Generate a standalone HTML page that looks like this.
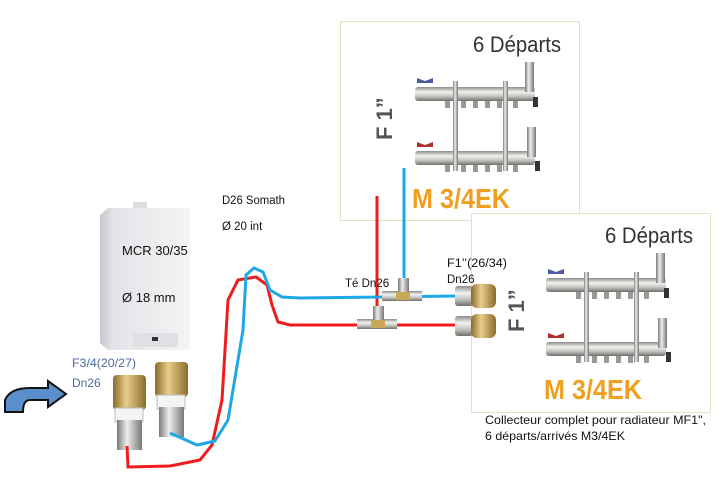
<!DOCTYPE html>
<html><head><meta charset="utf-8"><style>
html,body{margin:0;padding:0;background:#fff;width:726px;height:495px;overflow:hidden}
svg{display:block}
text{font-family:"Liberation Sans",sans-serif}
</style></head><body>
<svg width="726" height="495" viewBox="0 0 726 495" xmlns="http://www.w3.org/2000/svg">
<defs>
<linearGradient id="met" x1="0" y1="0" x2="0" y2="1"><stop offset="0" stop-color="#8a8a88"/><stop offset=".35" stop-color="#f2f2f0"/><stop offset=".7" stop-color="#bdbdb8"/><stop offset="1" stop-color="#6e6e6a"/></linearGradient>
<linearGradient id="metv" x1="0" y1="0" x2="1" y2="0"><stop offset="0" stop-color="#7a7a78"/><stop offset=".4" stop-color="#eeeeec"/><stop offset="1" stop-color="#777"/></linearGradient>
<linearGradient id="brass" x1="0" y1="0" x2="1" y2="0"><stop offset="0" stop-color="#8a6a2a"/><stop offset=".4" stop-color="#e8cf8a"/><stop offset="1" stop-color="#8c6b2b"/></linearGradient>
<linearGradient id="boil" x1="0" y1="0" x2="1" y2="0"><stop offset="0" stop-color="#c8c8cc"/><stop offset=".15" stop-color="#e4e4e8"/><stop offset="1" stop-color="#f4f4f6"/></linearGradient>
<g id="man">
  <rect x="0" y="0" width="120" height="14" rx="3" fill="url(#met)"/>
  <rect x="0" y="64" width="120" height="14" rx="3" fill="url(#met)"/>
  <rect x="38" y="-6" width="5" height="90" fill="url(#metv)"/>
  <rect x="88" y="-6" width="5" height="90" fill="url(#metv)"/>
  <g fill="#999"><rect x="30" y="14" width="5" height="7"/><rect x="46" y="14" width="5" height="7"/><rect x="58" y="14" width="5" height="7"/><rect x="70" y="14" width="5" height="7"/><rect x="82" y="14" width="5" height="7"/><rect x="98" y="14" width="5" height="7"/>
  <rect x="30" y="78" width="5" height="7"/><rect x="46" y="78" width="5" height="7"/><rect x="58" y="78" width="5" height="7"/><rect x="70" y="78" width="5" height="7"/><rect x="82" y="78" width="5" height="7"/><rect x="98" y="78" width="5" height="7"/></g>
  <rect x="110" y="-25" width="9" height="30" fill="url(#metv)"/>
  <rect x="112" y="40" width="9" height="30" fill="url(#metv)"/>
  <rect x="118" y="10" width="5" height="10" fill="#333"/>
  <rect x="120" y="74" width="5" height="10" fill="#333"/>
  <path d="M2 -9 l8 3 l8 -3 v5 h-16z" fill="#4a5aa8"/>
  <path d="M2 55 l8 3 l8 -3 v5 h-16z" fill="#b03030"/>
</g>
</defs>

<rect x="340.5" y="21.5" width="239" height="199" fill="#fff" stroke="#d6e6c4"/>
<text x="473" y="52" font-size="22" fill="#333" textLength="88" lengthAdjust="spacingAndGlyphs">6 Départs</text>
<text transform="translate(392,140) rotate(-90)" font-size="22" font-weight="bold" fill="#555">F 1”</text>
<use href="#man" x="415" y="87"/>
<text x="412" y="208" font-size="28" font-weight="bold" fill="#f0a020" textLength="98" lengthAdjust="spacingAndGlyphs">M 3/4EK</text>

<rect x="471.5" y="213.5" width="239" height="199" fill="#fff" stroke="#d6e6c4"/>
<text x="605" y="243" font-size="22" fill="#333" textLength="88" lengthAdjust="spacingAndGlyphs">6 Départs</text>
<text transform="translate(524,332) rotate(-90)" font-size="22" font-weight="bold" fill="#555">F 1”</text>
<use href="#man" x="546" y="278"/>
<text x="544" y="399" font-size="28" font-weight="bold" fill="#f0a020" textLength="98" lengthAdjust="spacingAndGlyphs">M 3/4EK</text>

<rect x="133" y="202" width="14" height="10" fill="#ddd"/>
<path d="M100 215 L108 208 L190 208 L190 350 L108 350 L100 343Z" fill="url(#boil)"/>
<rect x="133" y="333" width="45" height="14" rx="2" fill="#e0e0e4"/>
<rect x="152" y="337" width="6" height="4" fill="#333"/>
<text x="122" y="255" font-size="13" fill="#111">MCR 30/35</text>
<text x="122" y="302" font-size="13" fill="#111">Ø 18 mm</text>

<rect x="113" y="375" width="33" height="35" rx="4" fill="url(#brass)"/>
<rect x="115" y="408" width="28" height="14" fill="#f4f4f4" stroke="#bbb"/>
<rect x="117" y="420" width="25" height="30" fill="url(#metv)"/>
<rect x="155" y="362" width="33" height="35" rx="4" fill="url(#brass)"/>
<rect x="157" y="395" width="28" height="14" fill="#f4f4f4" stroke="#bbb"/>
<rect x="159" y="407" width="25" height="30" fill="url(#metv)"/>

<path d="M5 412 L5 400 Q10 388 30 388 L48 388 L48 381 L66 394 L48 407 L48 400 L30 400 Q23 400 23 412Z" fill="#5b8fcb" stroke="#111" stroke-width="2"/>

<text x="72" y="367" font-size="12" fill="#4a6a9a" textLength="64" lengthAdjust="spacingAndGlyphs">F3/4(20/27)</text>
<text x="72" y="387" font-size="12" fill="#4a6a9a">Dn26</text>

<path d="M127 446 L128 467 L170 466 L200 460 L212 445 L222 400 L228 300 L238 280 L256 277 L267 285 L272 305 L278 322 L290 325 L372 325 L460 325" fill="none" stroke="#ee1c1c" stroke-width="3"/>
<path d="M377 325 L377 196" fill="none" stroke="#ee1c1c" stroke-width="3"/>
<path d="M170 433 L197 445 L215 441 L228 420 L243 330 L246 275 L254 268 L263 272 L270 290 L282 297 L300 298 L455 296" fill="none" stroke="#1fa8e6" stroke-width="3"/>
<path d="M404 296 L404 168" fill="none" stroke="#1fa8e6" stroke-width="3"/>

<rect x="382" y="291" width="40" height="10" fill="url(#met)"/><rect x="398" y="278" width="11" height="16" fill="url(#metv)"/><rect x="396" y="292" width="14" height="8" fill="#c9a85a"/>
<rect x="357" y="319" width="40" height="10" fill="url(#met)"/><rect x="373" y="306" width="11" height="16" fill="url(#metv)"/><rect x="371" y="320" width="14" height="8" fill="#c9a85a"/>

<rect x="455" y="286" width="18" height="20" rx="3" fill="url(#met)"/><rect x="471" y="284" width="25" height="24" rx="6" fill="url(#brass)"/>
<rect x="455" y="316" width="18" height="20" rx="3" fill="url(#met)"/><rect x="471" y="314" width="25" height="24" rx="6" fill="url(#brass)"/>

<text x="222" y="204" font-size="11.5" fill="#111" textLength="63" lengthAdjust="spacingAndGlyphs">D26 Somath</text>
<text x="222" y="230" font-size="11.5" fill="#111">Ø 20 int</text>
<text x="345" y="287" font-size="11.5" fill="#111">Té Dn26</text>
<text x="447" y="267" font-size="11.5" fill="#111" textLength="60" lengthAdjust="spacingAndGlyphs">F1’’(26/34)</text>
<text x="447" y="283" font-size="11.5" fill="#111">Dn26</text>
<text x="485" y="424" font-size="12" fill="#111" textLength="221" lengthAdjust="spacingAndGlyphs">Collecteur complet pour radiateur MF1",</text>
<text x="485" y="440" font-size="12" fill="#111" textLength="140" lengthAdjust="spacingAndGlyphs">6 départs/arrivés M3/4EK</text>
</svg>
</body></html>
